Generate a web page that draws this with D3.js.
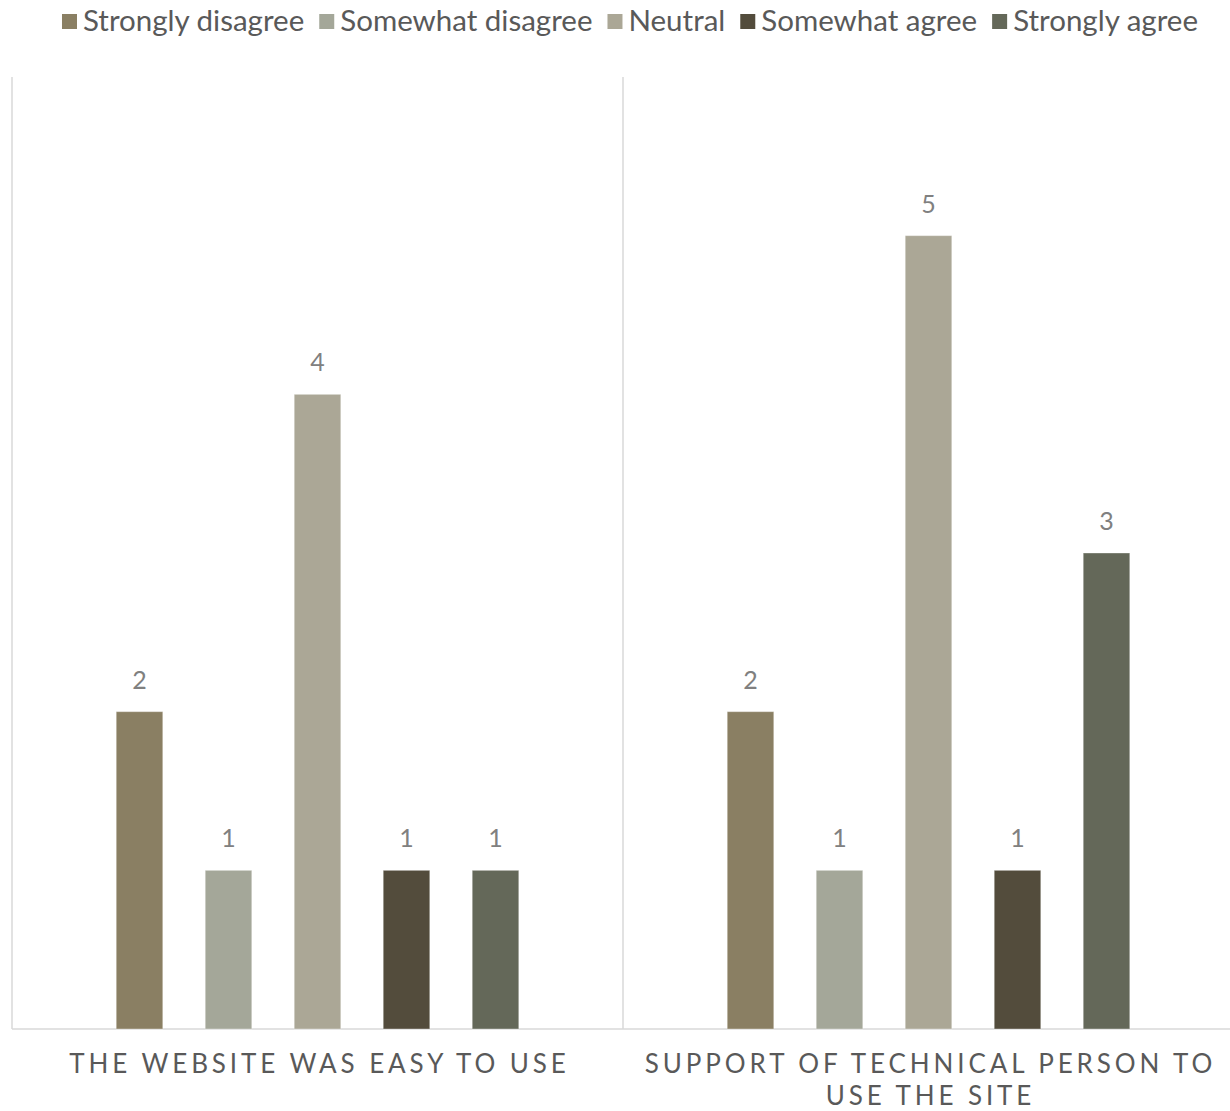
<!DOCTYPE html>
<html>
<head>
<meta charset="utf-8">
<script src="https://cdn.jsdelivr.net/npm/d3@7"></script>
<style>
  html, body { margin: 0; padding: 0; background: #fff; }
  svg { display: block; font-family: Lato, "Open Sans", sans-serif; }
</style>
</head>
<body>
<svg id="chart" width="1230" height="1111"></svg>
<script>
// Survey responses per statement
const categories = ["THE WEBSITE WAS EASY TO USE", "SUPPORT OF TECHNICAL PERSON TO USE THE SITE"];
const categoryLines = [["THE WEBSITE WAS EASY TO USE"], ["SUPPORT OF TECHNICAL PERSON TO", "USE THE SITE"]];
const seriesNames = ["Strongly disagree", "Somewhat disagree", "Neutral", "Somewhat agree", "Strongly agree"];
const seriesColors = ["#8a7f63", "#a4a799", "#aba796", "#534c3c", "#646859"];
const stronglyDisagree = [2, 2];
const somewhatDisagree = [1, 1];
const neutral = [4, 5];
const somewhatAgree = [1, 1];
const stronglyAgree = [1, 3];
const seriesValues = [stronglyDisagree, somewhatDisagree, neutral, somewhatAgree, stronglyAgree];

const svg = d3.select("#chart");
const plot = { left: 12, right: 1234, top: 77, bottom: 1029 };

const x0 = d3.scaleBand().domain(categories).range([plot.left, plot.right]).paddingInner(0).paddingOuter(0);
const x1 = d3.scaleBand().domain(seriesNames).range([83, x0.bandwidth() - 83]).paddingInner(0.477).paddingOuter(0.2385);
const y = d3.scaleLinear().domain([0, 6]).range([plot.bottom, plot.top]);

// category separators and baseline
const sepX = [plot.left, plot.left + x0.bandwidth(), plot.right];
svg.append("g").selectAll("line").data(sepX).join("line")
  .attr("x1", d => d).attr("x2", d => d)
  .attr("y1", plot.top).attr("y2", plot.bottom)
  .attr("stroke", "#d9d9d9").attr("stroke-width", 1.5);
svg.append("line")
  .attr("x1", plot.left).attr("x2", plot.right)
  .attr("y1", plot.bottom).attr("y2", plot.bottom)
  .attr("stroke", "#d9d9d9").attr("stroke-width", 1.5);

// bars
const rows = [];
categories.forEach((c, ci) => seriesNames.forEach((s, si) => rows.push({ c, s, si, v: seriesValues[si][ci] })));

const groups = svg.append("g");
groups.selectAll("rect").data(rows).join("rect")
  .attr("x", d => x0(d.c) + x1(d.s))
  .attr("width", x1.bandwidth())
  .attr("y", d => y(d.v))
  .attr("height", d => y(0) - y(d.v))
  .attr("fill", d => seriesColors[d.si])
  .attr("stroke", "#ffffff").attr("stroke-opacity", 0.35).attr("stroke-width", 1);

// value labels
groups.selectAll("text").data(rows).join("text")
  .attr("x", d => x0(d.c) + x1(d.s) + x1.bandwidth() / 2)
  .attr("y", d => y(d.v) - 23)
  .attr("text-anchor", "middle")
  .attr("font-size", 25)
  .attr("fill", "#808080")
  .text(d => d.v);

// category labels
const catG = svg.append("g");
categories.forEach((c, ci) => {
  const t = catG.append("text")
    .attr("text-anchor", "middle")
    .attr("font-size", 26)
    .attr("letter-spacing", 3.9)
    .attr("fill", "#595959");
  categoryLines[ci].forEach((line, li) => {
    t.append("tspan")
      .attr("x", x0(c) + x0.bandwidth() / 2 + 2)
      .attr("y", 1073 + li * 32)
      .text(line);
  });
});

// legend
const legend = svg.append("g");
const items = legend.selectAll("g").data(seriesNames).join("g");
items.append("rect").attr("width", 15).attr("height", 15).attr("y", 14)
  .attr("fill", (d, i) => seriesColors[i]);
items.append("text").attr("x", 21).attr("y", 31)
  .attr("font-size", 29.5).attr("fill", "#595959")
  .text(d => d);
let lx = 0;
const widths = [];
items.each(function () { widths.push(21 + this.querySelector("text").getComputedTextLength()); });
const gap = 15;
const total = d3.sum(widths) + gap * (widths.length - 1);
lx = 630 - total / 2;
items.attr("transform", (d, i) => {
  const t = `translate(${lx},0)`;
  lx += widths[i] + gap;
  return t;
});
</script>
</body>
</html>
